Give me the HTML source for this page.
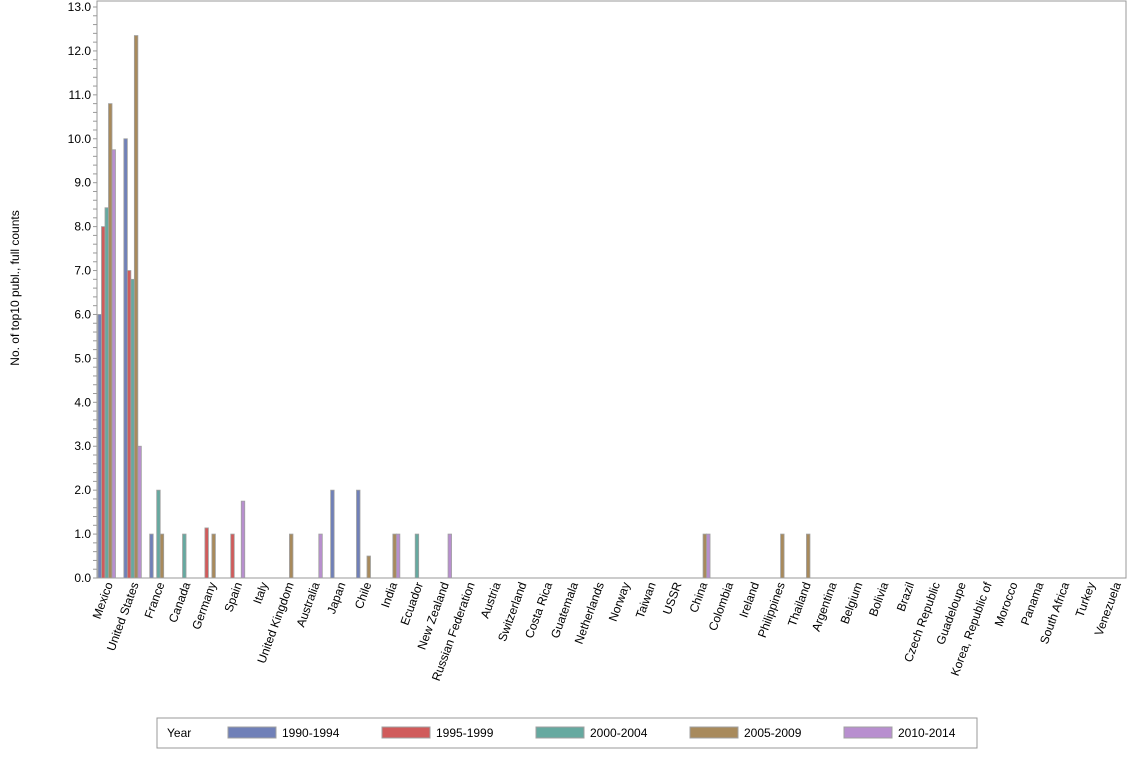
<!DOCTYPE html>
<html><head><meta charset="utf-8"><style>
body{margin:0;background:#fff;font-family:"Liberation Sans",Arial,sans-serif}
svg text{font-family:"Liberation Sans",Arial,sans-serif;font-size:12px;fill:#000}
</style></head><body>
<svg id="chart" width="1134" height="756">
<rect x="97" y="1" width="1029" height="577" fill="none" stroke="#999"/>
<g id="yaxis"></g><g id="bars"></g><g id="xlabels"></g>
<text transform="translate(19,288) rotate(-90)" text-anchor="middle">No. of top10 publ., full counts</text>
<g id="legend">
<rect x="157" y="718" width="820" height="30" fill="#fff" stroke="#999"/>
<text x="167" y="737">Year</text>
</g>
</svg>
<script>
const categories=["Mexico","United States","France","Canada","Germany","Spain","Italy","United Kingdom","Australia","Japan","Chile","India","Ecuador","New Zealand","Russian Federation","Austria","Switzerland","Costa Rica","Guatemala","Netherlands","Norway","Taiwan","USSR","China","Colombia","Ireland","Philippines","Thailand","Argentina","Belgium","Bolivia","Brazil","Czech Republic","Guadeloupe","Korea, Republic of","Morocco","Panama","South Africa","Turkey","Venezuela"];
const seriesNames=["1990-1994","1995-1999","2000-2004","2005-2009","2010-2014"];
const s1990=[6,10,1,0,0,0,0,0,0,2,2,0,0,0,0,0,0,0,0,0,0,0,0,0,0,0,0,0,0,0,0,0,0,0,0,0,0,0,0,0];
const s1995=[8,7,0,0,1.14,1,0,0,0,0,0,0,0,0,0,0,0,0,0,0,0,0,0,0,0,0,0,0,0,0,0,0,0,0,0,0,0,0,0,0];
const s2000=[8.43,6.8,2,1,0,0,0,0,0,0,0,0,1,0,0,0,0,0,0,0,0,0,0,0,0,0,0,0,0,0,0,0,0,0,0,0,0,0,0,0];
const s2005=[10.8,12.35,1,0,1,0,0,1,0,0,0.5,1,0,0,0,0,0,0,0,0,0,0,0,1,0,0,1,1,0,0,0,0,0,0,0,0,0,0,0,0];
const s2010=[9.75,3,0,0,0,1.75,0,0,1,0,0,1,0,1,0,0,0,0,0,0,0,0,0,1,0,0,0,0,0,0,0,0,0,0,0,0,0,0,0,0];
const yTicks=[0,1,2,3,4,5,6,7,8,9,10,11,12,13];
const series=[s1990,s1995,s2000,s2005,s2010];
const colors=["#7080b8","#d05b5b","#66a9a0","#a88a5c","#b88fcf"];
const NS="http://www.w3.org/2000/svg";
const y=v=>578-v*(571/13);
const step=25.85, bw=3.5, x0=98;
function mk(t,a,p){const e=document.createElementNS(NS,t);for(const k in a)e.setAttribute(k,a[k]);p.appendChild(e);return e;}
const ya=document.getElementById('yaxis');
mk('line',{x1:97,y1:1,x2:97,y2:578,stroke:'#999'},ya);
for(let v=0;v<=13.001;v+=0.2){mk('line',{x1:93,x2:97,y1:y(v),y2:y(v),stroke:'#999'},ya);}
yTicks.forEach(v=>{const t=mk('text',{x:91,y:y(v)+4,'text-anchor':'end'},ya);t.textContent=v.toFixed(1);

});
mk('line',{x1:97,y1:578,x2:1126,y2:578,stroke:'#999'},ya);
const bg=document.getElementById('bars');
categories.forEach((c,i)=>{series.forEach((s,j)=>{if(s[i]>0){const r=mk('rect',{x:x0+i*step+j*bw,y:y(s[i]),width:bw,height:578-y(s[i]),fill:colors[j],stroke:'#a0a0a0','stroke-width':0.8},bg);

}});
const cx=x0+i*step+15;
const t=mk('text',{transform:`translate(${cx},584) rotate(-70)`,'text-anchor':'end'},document.getElementById('xlabels'));t.textContent=c;

});
const lg=document.getElementById('legend');
const lx=[228,382,536,690,844];
seriesNames.forEach((n,j)=>{const g=mk('g',{},lg);


mk('rect',{x:lx[j],y:727,width:48,height:11,fill:colors[j],stroke:'#a0a0a0'},g);
const t=mk('text',{x:lx[j]+54,y:737},g);t.textContent=n;});
</script>
</body></html>
